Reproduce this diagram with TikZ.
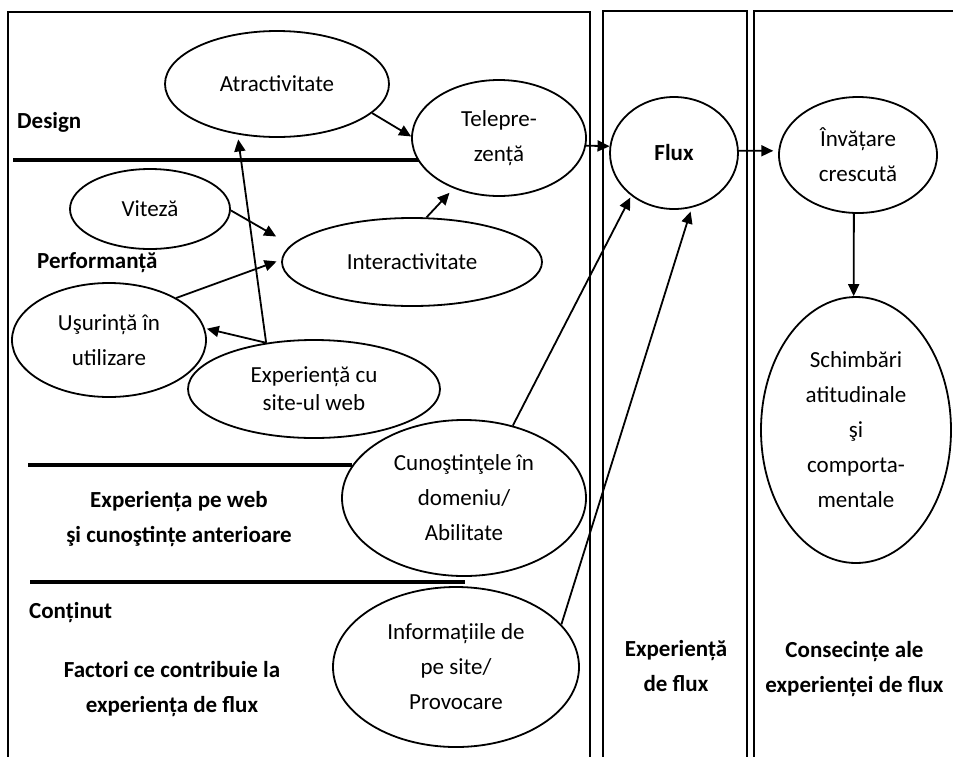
\documentclass[tikz,border=0pt]{standalone}
\usepackage{fontspec}
\setmainfont{Carlito}
\usetikzlibrary{shapes.geometric,arrows.meta}

\begin{document}
\begin{tikzpicture}[x=1pt,y=-1pt,
  bub/.style={ellipse, draw, line width=1.8pt, fill=white, inner sep=0pt,
    align=center, font=\fontsize{23}{35}\selectfont},
  lbl/.style={inner sep=0pt, align=center, font=\fontsize{23}{35}\selectfont\bfseries},
  arr/.style={line width=1.8pt, -{Triangle[length=12pt,width=11pt]}},
  frame/.style={line width=1.8pt},
  rule/.style={line width=3.5pt}]
\useasboundingbox (0,0) rectangle (953,756);
\clip (0,0) rectangle (953,756);

% column frames
\draw[frame] (8,12) rectangle (590,800);
\draw[frame] (603,11) rectangle (747,800);
\draw[frame] (754,11) rectangle (1000,800);

% section rules
\draw[rule] (13,160) -- (430,160);
\draw[rule] (28,465) -- (352,465);
\draw[rule] (30,582) -- (465,582);

% factors
\node[bub, minimum width=224pt, minimum height=106pt] (atr) at (277,84) {Atractivitate};
\node[bub, minimum width=174pt, minimum height=116pt] (tel) at (499,138) {Telepre-\\zență};
\node[bub, minimum width=160pt, minimum height=80pt] (vit) at (150,209) {Viteză};
\node[bub, minimum width=260pt, minimum height=88pt] (int) at (412,262) {Interactivitate};
\node[bub, minimum width=194pt, minimum height=114pt] (usu) at (109,340) {Uşurință în\\utilizare};
\node[bub, minimum width=252pt, minimum height=98pt, font=\fontsize{23}{28}\selectfont] (exp) at (314,389) {Experiență cu\\site-ul web};
\node[bub, minimum width=244pt, minimum height=156pt] (cun) at (464,498) {Cunoştinţele în\\domeniu/\\Abilitate};
\node[bub, minimum width=246pt, minimum height=160pt] (inf) at (456,667) {Informațiile de\\pe site/\\Provocare};

% flow and its consequences
\node[bub, minimum width=128pt, minimum height=112pt] (flux) at (674,153) {\bfseries Flux};
\node[bub, minimum width=158pt, minimum height=116pt] (inv) at (858,155) {Învățare\\crescută};
\node[bub, minimum width=190pt, minimum height=266pt] (sch) at (856,430) {Schimbări\\atitudinale\\şi\\comporta-\\mentale};

% section labels
\node[lbl, anchor=base west] (design) at (17,128) {Design};
\node[lbl, anchor=base west] (perf) at (37,268) {Performanță};
\node[lbl] (web) at (179,519) {Experiența pe web\\şi cunoştințe anterioare};
\node[lbl, anchor=base west] (cont) at (29,618) {Conținut};
\node[lbl] (fact) at (172,689.5) {Factori ce contribuie la\\experiența de flux};
\node[lbl] (fexp) at (676,666.5) {Experiență\\de flux};
\node[lbl] (cons) at (854.5,669) {Consecințe ale\\experienței de flux};

% connectors
\draw[arr] (atr.-17) -- (tel.179);
\draw[arr] (tel.-5) -- (flux.174);
\draw[arr, shorten >=5pt] (flux.2) -- (inv.177);
\draw[arr] (inv.-94) -- (sch.91);
\draw[arr, shorten >=17pt] (vit.-1) -- (int.172);
\draw[arr, shorten >=5pt] (usu.32) -- (int.179);
\draw[arr, shorten >=6pt] (int.72) -- (tel.-132);
\draw[arr, shorten >=5pt] (exp.136) -- (atr.-128);
\draw[arr, shorten >=2pt] (exp.136) -- (usu.7);
\draw[arr, shorten >=2pt] (cun.56) -- (flux.-135);
\draw[arr, shorten >=4pt] (inf.22) -- (flux.-72);
\end{tikzpicture}
\end{document}
